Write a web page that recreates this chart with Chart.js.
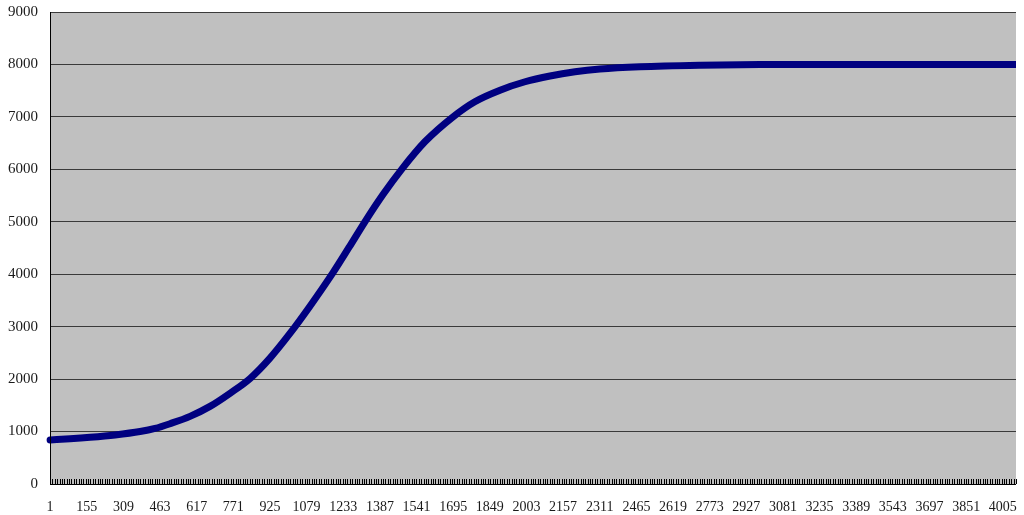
<!DOCTYPE html>
<html>
<head>
<meta charset="utf-8">
<script src="https://cdn.jsdelivr.net/npm/chart.js@4"></script>
<style>
  html, body { margin: 0; padding: 0; background: #ffffff; }
  #wrap { width: 1024px; height: 515px; position: relative; }
</style>
</head>
<body>
<div id="wrap"><canvas id="c" width="1024" height="515"></canvas></div>
<script>
// ---- data ----
const categoryCount = 4060;
const sampleCategories = [1, 85, 169, 274, 379, 442, 505, 589, 673, 757, 841, 925, 1009, 1093, 1190, 1257, 1324, 1400, 1480, 1577, 1694, 1786, 1892, 1997, 2102, 2207, 2312, 2480, 2733, 2985, 3363, 4060];
const sampleValues     = [840, 862, 890, 935, 1000, 1060, 1150, 1290, 1480, 1730, 2010, 2400, 2870, 3390, 4030, 4510, 5000, 5520, 6010, 6530, 7000, 7290, 7510, 7670, 7780, 7860, 7912, 7955, 7985, 7998, 8000, 8000];
const xTickLabels = ['1','155','309','463','617','771','925','1079','1233','1387','1541','1695','1849','2003','2157','2311','2465','2619','2773','2927','3081','3235','3389','3543','3697','3851','4005'];
const yTickLabels = ['0','1000','2000','3000','4000','5000','6000','7000','8000','9000'];
const minorTickEvery = 10;

const points = sampleCategories.map((c, i) => ({ x: c, y: sampleValues[i] }));

const plotBg = {
  id: 'plotBg',
  beforeDraw(chart) {
    const { ctx, chartArea: a } = chart;
    ctx.save();
    ctx.fillStyle = '#c0c0c0';
    ctx.fillRect(a.left, a.top, a.right - a.left, a.bottom - a.top);
    ctx.restore();
  },
  afterDraw(chart) {
    const { ctx, chartArea: a, scales } = chart;
    const xs = scales.x;
    ctx.save();
    ctx.strokeStyle = '#000000';
    ctx.lineWidth = 1;
    ctx.beginPath();
    for (let v = 0.5; v <= categoryCount + 0.5; v += minorTickEvery) {
      const px = Math.round(xs.getPixelForValue(v)) + 0.5;
      ctx.moveTo(px, a.bottom);
      ctx.lineTo(px, a.bottom - 5);
    }
    ctx.stroke();
    ctx.beginPath();
    ctx.moveTo(a.left + 0.5, a.top);
    ctx.lineTo(a.left + 0.5, a.bottom);
    ctx.moveTo(a.left, a.bottom + 0.5);
    ctx.lineTo(a.right, a.bottom + 0.5);
    ctx.stroke();
    ctx.restore();
  }
};

new Chart(document.getElementById('c'), {
  type: 'line',
  data: {
    datasets: [{
      data: points,
      borderColor: '#000080',
      backgroundColor: '#000080',
      borderWidth: 7,
      borderCapStyle: 'round',
      pointRadius: 0,
      cubicInterpolationMode: 'monotone',
      clip: { left: 6, right: 0, top: 0, bottom: 0 }
    }]
  },
  options: {
    responsive: false,
    animation: false,
    events: [],
    layout: { padding: { left: 0, right: 8, top: 12, bottom: 0 } },
    plugins: { legend: { display: false }, tooltip: { enabled: false } },
    scales: {
      x: {
        type: 'linear',
        min: 0.5,
        max: categoryCount + 0.5,
        afterBuildTicks(scale) {
          scale.ticks = xTickLabels.map(l => ({ value: Number(l) }));
        },
        afterFit(scale) {
          scale.height = 31;
          scale.paddingLeft = 0; scale.paddingRight = 0;
        },
        grid: { display: false, drawTicks: false },
        border: { display: false },
        ticks: {
          autoSkip: false,
          maxRotation: 0,
          padding: 15,
          color: '#1a1a1a',
          font: { family: 'Liberation Serif', size: 14 },
          callback(v) { return xTickLabels.includes(String(v)) ? String(v) : ''; }
        }
      },
      y: {
        min: 0,
        max: 9000,
        afterBuildTicks(scale) {
          scale.ticks = yTickLabels.map(l => ({ value: Number(l) }));
        },
        afterFit(scale) {
          scale.width = 50;
          scale.paddingTop = 0; scale.paddingBottom = 0;
        },
        grid: { color: '#3a3a3a', lineWidth: 1, drawTicks: false },
        border: { display: false },
        ticks: {
          padding: 12,
          color: '#1a1a1a',
          font: { family: 'Liberation Serif', size: 15 },
          callback(v) { return String(v); }
        }
      }
    }
  },
  plugins: [plotBg]
});
</script>
</body>
</html>
